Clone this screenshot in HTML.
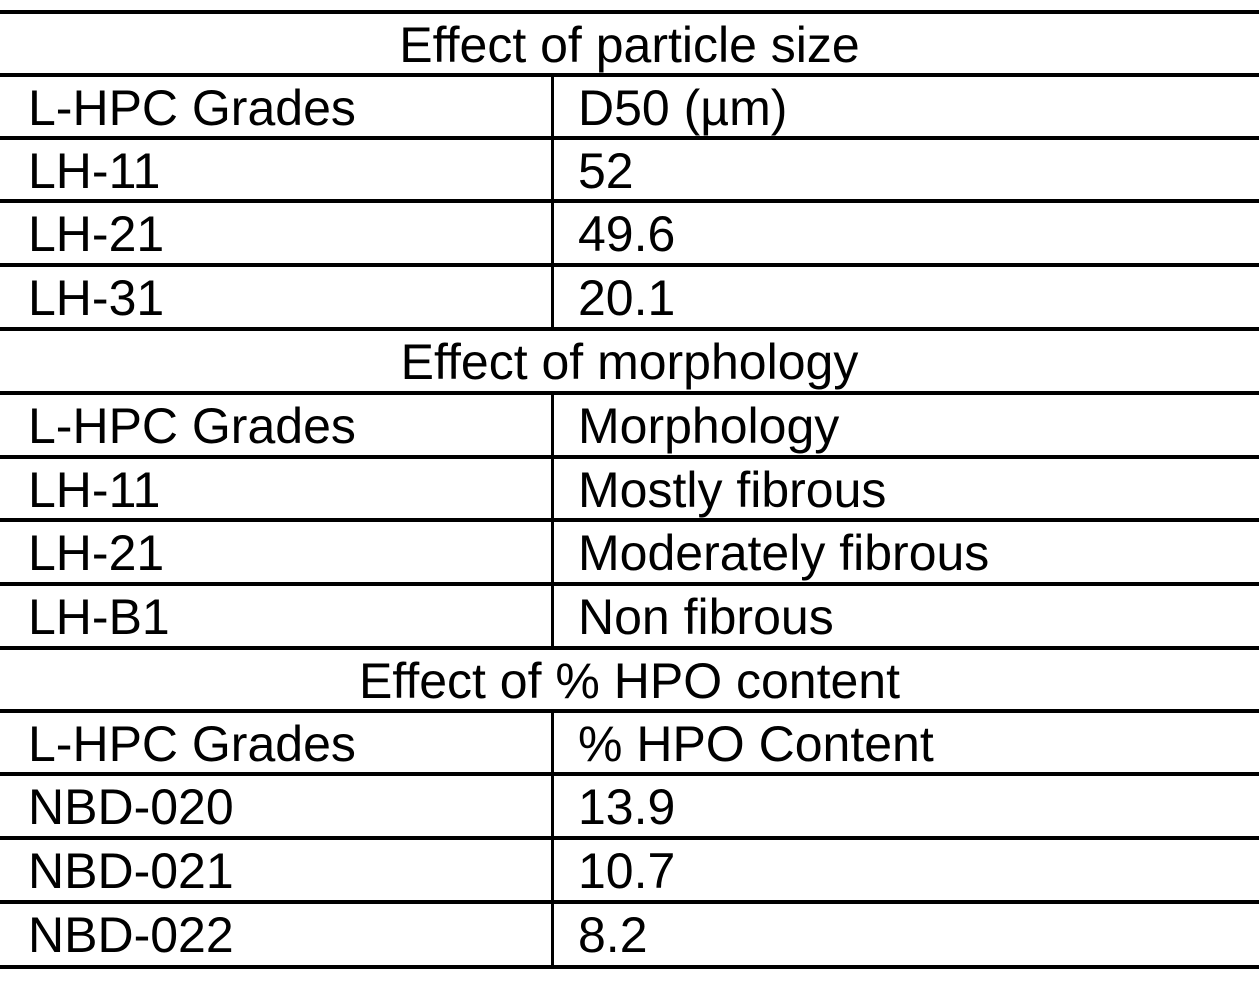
<!DOCTYPE html>
<html><head><style>
body{margin:0;width:1259px;height:997px;background:#fff;position:relative;overflow:hidden;font-family:"Liberation Sans",Arial,sans-serif;font-size:50px;color:#000}
.h{position:absolute;left:0;width:1259px;height:4px;background:#000}
.v{position:absolute;left:551px;width:3px;background:#000}
.t{position:absolute;line-height:1;white-space:nowrap}
.c{left:0;width:1259px;text-align:center}
</style></head><body>
<div class="h" style="top:10px"></div>
<div class="h" style="top:73px"></div>
<div class="h" style="top:136px"></div>
<div class="h" style="top:199px"></div>
<div class="h" style="top:263px"></div>
<div class="h" style="top:327px"></div>
<div class="h" style="top:391px"></div>
<div class="h" style="top:455px"></div>
<div class="h" style="top:518px"></div>
<div class="h" style="top:582px"></div>
<div class="h" style="top:646px"></div>
<div class="h" style="top:709px"></div>
<div class="h" style="top:772px"></div>
<div class="h" style="top:836px"></div>
<div class="h" style="top:900px"></div>
<div class="h" style="top:965px"></div>
<div class="v" style="top:73px;height:256px"></div>
<div class="v" style="top:391px;height:257px"></div>
<div class="v" style="top:709px;height:258px"></div>

<div class="t c" style="top:20px">Effect of particle size</div>
<div class="t" style="left:28px;top:83px">L-HPC Grades</div><div class="t" style="left:578px;top:83px">D50 (µm)</div>
<div class="t" style="left:28px;top:146px">LH-11</div><div class="t" style="left:578px;top:146px">52</div>
<div class="t" style="left:28px;top:209px">LH-21</div><div class="t" style="left:578px;top:209px">49.6</div>
<div class="t" style="left:28px;top:273px">LH-31</div><div class="t" style="left:578px;top:273px">20.1</div>
<div class="t c" style="top:337px">Effect of morphology</div>
<div class="t" style="left:28px;top:401px">L-HPC Grades</div><div class="t" style="left:578px;top:401px">Morphology</div>
<div class="t" style="left:28px;top:465px">LH-11</div><div class="t" style="left:578px;top:465px">Mostly fibrous</div>
<div class="t" style="left:28px;top:528px">LH-21</div><div class="t" style="left:578px;top:528px">Moderately fibrous</div>
<div class="t" style="left:28px;top:592px">LH-B1</div><div class="t" style="left:578px;top:592px">Non fibrous</div>
<div class="t c" style="top:656px">Effect of % HPO content</div>
<div class="t" style="left:28px;top:719px">L-HPC Grades</div><div class="t" style="left:578px;top:719px">% HPO Content</div>
<div class="t" style="left:28px;top:782px">NBD-020</div><div class="t" style="left:578px;top:782px">13.9</div>
<div class="t" style="left:28px;top:846px">NBD-021</div><div class="t" style="left:578px;top:846px">10.7</div>
<div class="t" style="left:28px;top:910px">NBD-022</div><div class="t" style="left:578px;top:910px">8.2</div>
</body></html>
